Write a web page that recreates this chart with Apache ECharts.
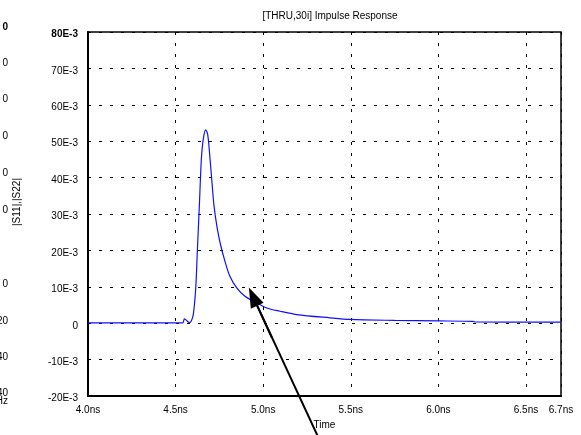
<!DOCTYPE html>
<html>
<head>
<meta charset="utf-8">
<script src="https://cdn.jsdelivr.net/npm/echarts@6/dist/echarts.min.js"></script>
<style>
  html, body { margin: 0; padding: 0; background: #fff; }
  #chart-container { width: 581px; height: 435px; }
</style>
</head>
<body>
<div id="chart-container"></div>
<script>
// impulse response, values in E-3 units
var timeNs = [4.0, 4.3, 4.54, 4.55, 4.562, 4.578, 4.588, 4.601, 4.615, 4.624, 4.635, 4.647,
  4.658, 4.672, 4.683, 4.692, 4.706, 4.719, 4.738, 4.757, 4.782, 4.81, 4.849, 4.896,
  4.943, 5.02, 5.096, 5.191, 5.381, 5.495, 5.75, 6.0, 6.2, 6.21, 6.7];
var s11 = [0.1, 0.1, 0.1, 1.2, 0.8, 0.2, 0.5, 2.4, 9.7, 19.7, 31.5, 45,
  50.6, 53.1, 51.9, 47.8, 39.7, 32.4, 26, 21.5, 17, 12.9, 9.7, 7.4,
  6.1, 4.2, 3.3, 2.4, 1.5, 1.06, 0.8, 0.65, 0.5, 0.35, 0.3];

var yMin = -20, yMax = 80, yStep = 10;
var xMin = 4.0, xMax = 6.7, xStep = 0.5;

// arrow annotation [time, value]; the tail runs below the plot
var arrowTail = [5.35, -35];
var arrowTip = [4.942, 7.3];
var arrowHeadFrom = [5.05, -4];

// cropped labels of the neighbouring chart on the left edge
var leftLabels = ["0", "0", "0", "0", "0", "0", "0", "20", "40", "-40"];
var leftLabelY = [27, 63, 99, 136, 173, 210, 284, 321, 357, 393];

var points = [];
for (var i = 0; i < timeNs.length; i++) {
  points.push([timeNs[i], s11[i]]);
}

var graphics = [];
leftLabels.forEach(function (txt, i) {
  graphics.push({
    type: "text",
    x: 8,
    y: leftLabelY[i],
    style: {
      text: txt,
      align: "right",
      verticalAlign: "middle",
      fontFamily: "Liberation Sans",
      fontSize: 10,
      fontWeight: i == 0 ? "bold" : "normal",
      fill: "#000",
    },
  });
});
graphics.push({
  type: "text",
  x: 8,
  y: 401,
  style: { text: "Hz", align: "right", verticalAlign: "middle", fontFamily: "Liberation Sans", fontSize: 10, fill: "#000" },
});
graphics.push({
  type: "text",
  x: 17,
  y: 202,
  rotation: Math.PI / 2,
  style: { text: "|S11|,|S22|", align: "center", verticalAlign: "middle", fontFamily: "Liberation Sans", fontSize: 10, fill: "#000" },
});

var dom = document.getElementById("chart-container");
var myChart = echarts.init(dom, null, { renderer: "canvas" });

var gridLine = { show: true, lineStyle: { color: "#000", width: 1, type: [3, 8] } };

var option = {
  animation: false,
  backgroundColor: "#fff",
  textStyle: { fontFamily: "Liberation Sans" },
  title: {
    text: "[THRU,30i] Impulse Response",
    left: 325,
    textAlign: "center",
    top: 6,
    textStyle: { fontSize: 10, fontWeight: "normal", color: "#000", fontFamily: "Liberation Sans" },
  },
  grid: {
    left: 88,
    right: 20,
    top: 32,
    bottom: 36,
    show: true,
    borderColor: "#000",
    borderWidth: 1.5,
  },
  graphic: graphics,
  xAxis: {
    type: "value",
    min: xMin,
    max: xMax,
    interval: xStep,
    name: "Time",
    nameLocation: "middle",
    nameGap: 23,
    nameTextStyle: { fontSize: 10, color: "#000" },
    axisLine: { show: true, onZero: false, lineStyle: { color: "#000", width: 2 } },
    axisTick: { show: false },
    splitLine: gridLine,
    axisLabel: {
      fontSize: 10,
      color: "#000",
      margin: 9,
      showMinLabel: true,
      showMaxLabel: true,
      formatter: function (v) { return v.toFixed(1) + "ns"; },
    },
  },
  yAxis: {
    type: "value",
    min: yMin,
    max: yMax,
    interval: yStep,
    axisLine: { show: true, onZero: false, lineStyle: { color: "#000", width: 2 } },
    axisTick: { show: false },
    splitLine: gridLine,
    axisLabel: {
      fontSize: 10,
      color: "#000",
      margin: 10,
      padding: [5, 0, 0, 0],
      formatter: function (v) {
        var r = Math.round(v);
        if (r == 0) return "0";
        if (r == yMax) return "{b|" + r + "E-3}";
        return r + "E-3";
      },
      rich: { b: { fontWeight: "bold", fontSize: 10, color: "#000" } },
    },
  },
  series: [
    {
      type: "line",
      data: points,
      showSymbol: false,
      smooth: 0.3,
      lineStyle: { color: "#1010ff", width: 1.2 },
    },
    {
      // arrow shaft, allowed to leave the plot area
      type: "line",
      data: [arrowTail, arrowTip],
      showSymbol: false,
      clip: false,
      silent: true,
      z: 5,
      lineStyle: { color: "#000", width: 2 },
      markLine: {
        silent: true,
        animation: false,
        symbol: ["none", "triangle"],
        symbolSize: [14, 20],
        label: { show: false },
        lineStyle: { color: "#000", width: 2, type: "solid" },
        data: [[{ coord: arrowHeadFrom }, { coord: arrowTip }]],
      },
    },
  ],
};

myChart.setOption(option);
window.addEventListener("resize", myChart.resize);
</script>
</body>
</html>
